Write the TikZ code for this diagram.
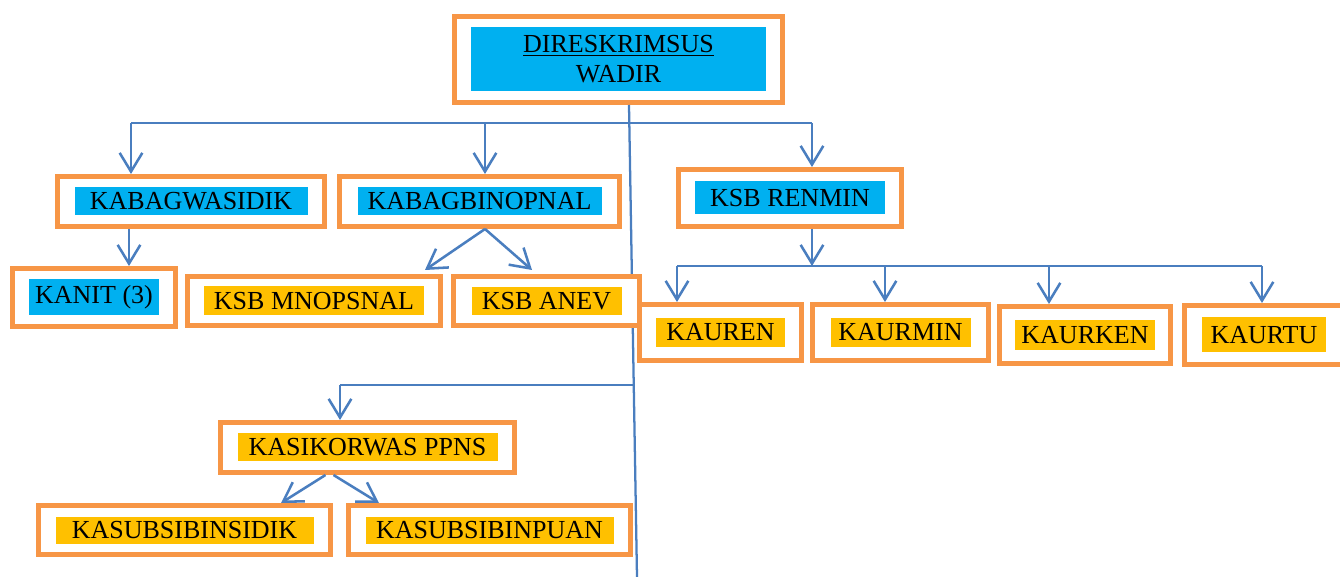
\documentclass[tikz,border=0pt]{standalone}
\usepackage{fontspec}
\setmainfont{Liberation Serif}
\usepackage{tikz}
\usetikzlibrary{calc,arrows.meta}
\definecolor{frame}{HTML}{F79646}
\definecolor{link}{HTML}{4A7EBF}
\definecolor{skyblue}{HTML}{00B0F0}
\definecolor{amber}{HTML}{FFC000}
\newcommand{\pxu}{0.75pt}
\tikzset{
  unit/.style 2 args={draw=frame, line width=3.75pt, fill=white, inner sep=0pt,
    minimum width=#1*\pxu, minimum height=#2*\pxu},
  tag/.style n args={3}{fill=#1, inner sep=0pt, text=black, align=center,
    font=\fontsize{19.5}{22.5}\selectfont, minimum width=#2*\pxu, minimum height=#3*\pxu},
  line/.style={draw=link, line width=1.7pt},
  arr/.style={line, line width=1.9pt, -{Straight Barb[length=14pt, width=17pt]}}
}

\begin{document}
\begin{tikzpicture}[x=0.75pt, y=-0.75pt]
  \useasboundingbox (0,0) rectangle (1340,577);

  \node[unit={328}{86}] (top) at (618.5,59.5) {};
  \node[tag={skyblue}{295}{64}] (topl) at (top) {\underline{DIRESKRIMSUS}\\WADIR};

  \coordinate (spinetop) at (629,105);
  \coordinate (spineend) at (637,577);
  \draw[line] (spinetop) -- (spineend);

  \node[unit={267}{50}] (wasidik) at (191,201.5) {};
  \node[tag={skyblue}{233}{28}] (wasidikl) at (wasidik) {KABAGWASIDIK};
  \node[unit={280}{50}] (binopnal) at (479.5,201.5) {};
  \node[tag={skyblue}{244}{28}] (binopnall) at (binopnal) {KABAGBINOPNAL};
  \node[unit={223}{57}] (renmin) at (790,198) {};
  \node[tag={skyblue}{190}{33}] (renminl) at (renmin) {KSB RENMIN};

  \node[unit={163}{58}] (kanit) at (94,297.5) {};
  \node[tag={skyblue}{130}{36}] (kanitl) at (kanit) {KANIT (3)};
  \node[unit={253}{49}] (mnopsnal) at (314,301) {};
  \node[tag={amber}{220}{29}] (mnopsnall) at (mnopsnal) {KSB MNOPSNAL};
  \node[unit={186}{49}] (anev) at (546.5,301) {};
  \node[tag={amber}{150}{28}] (anevl) at (anev) {KSB ANEV};

  \node[unit={162}{56}] (kauren) at (720.5,332.5) {};
  \node[tag={amber}{129}{29}] (kaurenl) at (kauren) {KAUREN};
  \node[unit={176}{56}] (kaurmin) at (900.5,332.5) {};
  \node[tag={amber}{140}{29}] (kaurminl) at (kaurmin) {KAURMIN};
  \node[unit={171}{57}] (kaurken) at (1085,335) {};
  \node[tag={amber}{140}{30}] (kaurkenl) at (kaurken) {KAURKEN};
  \node[unit={160}{59}] (kaurtu) at (1264,335) {};
  \node[tag={amber}{124}{35}] (kaurtul) at (kaurtu) {KAURTU};

  \node[unit={294}{50}] (korwas) at (367.5,447.5) {};
  \node[tag={amber}{260}{28}] (korwasl) at (korwas) {KASIKORWAS PPNS};
  \node[unit={292}{49}] (insidik) at (184.5,530) {};
  \node[tag={amber}{258}{27}] (insidikl) at (insidik) {KASUBSIBINSIDIK};
  \node[unit={282}{49}] (inpuan) at (489.5,530) {};
  \node[tag={amber}{248}{27}] (inpuanl) at (inpuan) {KASUBSIBINPUAN};

  % upper bus
  \coordinate (b1) at (131,123);
  \coordinate (b2) at (485,123);
  \coordinate (b3) at (812,123);
  \draw[line] (b1) -- (b3);
  \draw[arr] (b1) -- (b1 |- wasidik.north);
  \draw[arr] (b2) -- (b2 |- binopnal.north);
  \draw[arr] (b3) -- (b3 |- renmin.north);

  \coordinate (k1) at (129,0);
  \draw[arr] (wasidik.south -| k1) -- (kanit.north -| k1);

  \coordinate (s2) at (binopnal.south -| b2);
  \draw[arr] (s2) -- ($(mnopsnal.north east)+(-18,-4)$);
  \draw[arr] (s2) -- ($(anev.north west)+(81,-4)$);

  % renmin bus
  \coordinate (r0) at (812,266);
  \coordinate (r1) at (677,266);
  \coordinate (r2) at (885,266);
  \coordinate (r3) at (1049,266);
  \coordinate (r4) at (1262,266);
  \draw[arr] (renmin.south -| r0) -- (r0);
  \draw[line] (r1) -- (r4);
  \draw[arr] (r1) -- (r1 |- kauren.north);
  \draw[arr] (r2) -- (r2 |- kaurmin.north);
  \draw[arr] (r3) -- (r3 |- kaurken.north);
  \draw[arr] (r4) -- (r4 |- kaurtu.north);

  % lower branch
  \coordinate (j4) at ($(spinetop)!0.593!(spineend)$);
  \coordinate (c5) at (j4 -| 340,0);
  \draw[line] (j4) -- (c5);
  \draw[arr] (c5) -- (c5 |- korwas.north);
  \draw[arr] ($(korwas.south)+(-42,0)$) -- ($(insidik.north east)+(-52,0)$);
  \draw[arr] ($(korwas.south)+(-34,0)$) -- ($(inpuan.north west)+(33,0)$);
\end{tikzpicture}
\end{document}
